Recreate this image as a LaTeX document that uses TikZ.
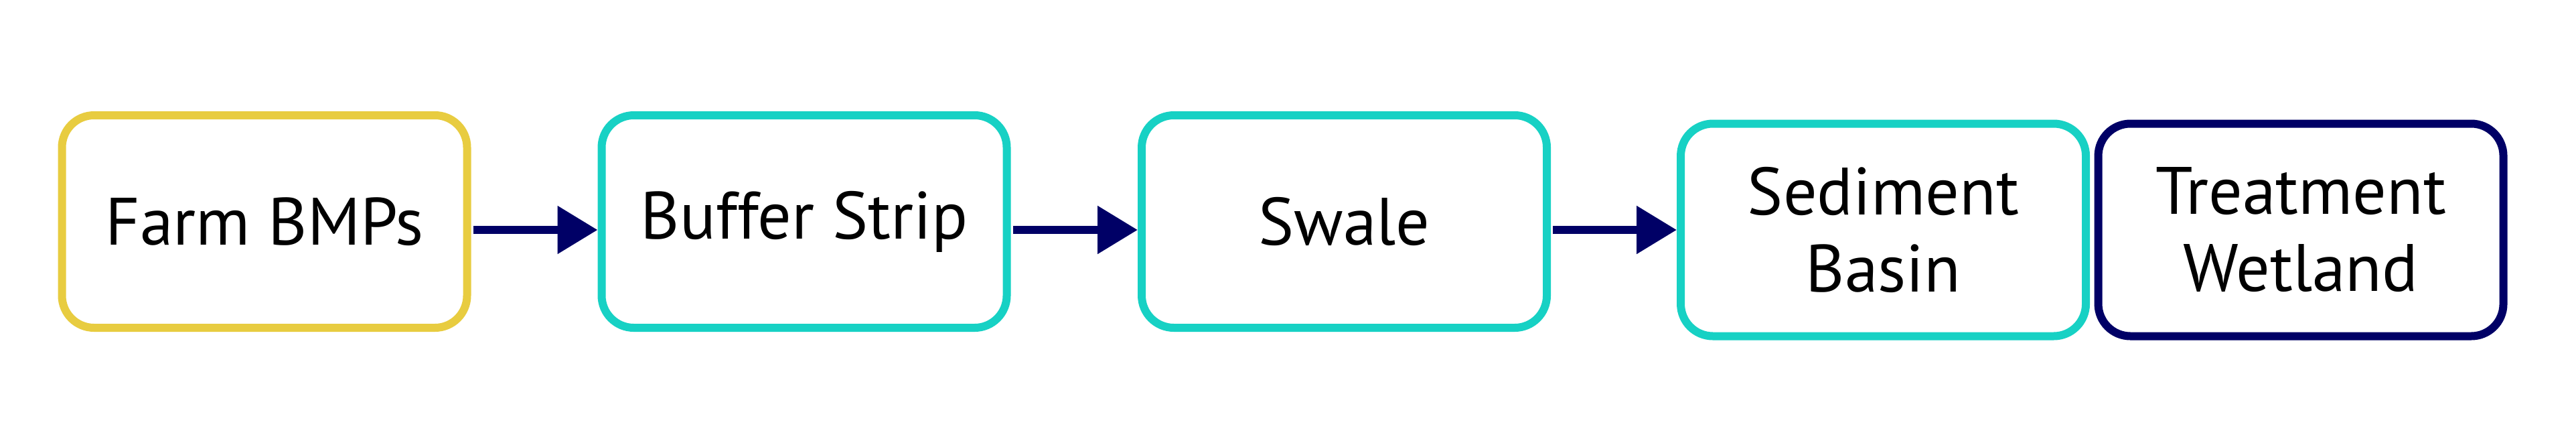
\documentclass[tikz,border=0pt]{standalone}
\usepackage{fontspec}
\setmainfont{PT Sans}
\usepackage{tikz}
\usetikzlibrary{arrows.meta}
\usetikzlibrary{positioning}
\definecolor{farmyellow}{rgb}{0.91,0.80,0.25}
\definecolor{stripteal}{rgb}{0.09,0.82,0.77}
\definecolor{flownavy}{rgb}{0,0,0.40}

\begin{document}
\begin{tikzpicture}[x=1pt, y=1pt,
  stage/.style={draw, line width=1.2pt, rounded corners=4.8pt, fill=white,
    minimum width=60.5pt, minimum height=31.7pt, inner sep=0pt, align=center,
    font=\fontsize{10pt}{11.5pt}\selectfont},
  flow/.style={draw=flownavy, line width=1.2pt, shorten <=0.3pt,
    -{Triangle[length=6pt, width=6.9pt]}}]
  \useasboundingbox (0, 0) rectangle (384.7, 64.5);
  \node[stage, draw=farmyellow] (farm)   at (39.5, 31.45)  {Farm BMPs};
  \node[stage, draw=stripteal]  (buffer) at (120.1, 31.45) {Buffer Strip};
  \node[stage, draw=stripteal]  (swale)  at (200.75, 31.45) {Swale};
  \node[stage, draw=stripteal]  (basin)  at (281.25, 30.2) {Sediment\\Basin};
  \node[stage, draw=flownavy]   (wetland) at (343.6, 30.2) {Treatment\\Wetland};
  \foreach \a/\b in {farm/buffer, buffer/swale, swale/basin} {
    \draw[flow] (\a.east |- basin) -- (\b.west |- basin);
  }
\end{tikzpicture}
\end{document}
